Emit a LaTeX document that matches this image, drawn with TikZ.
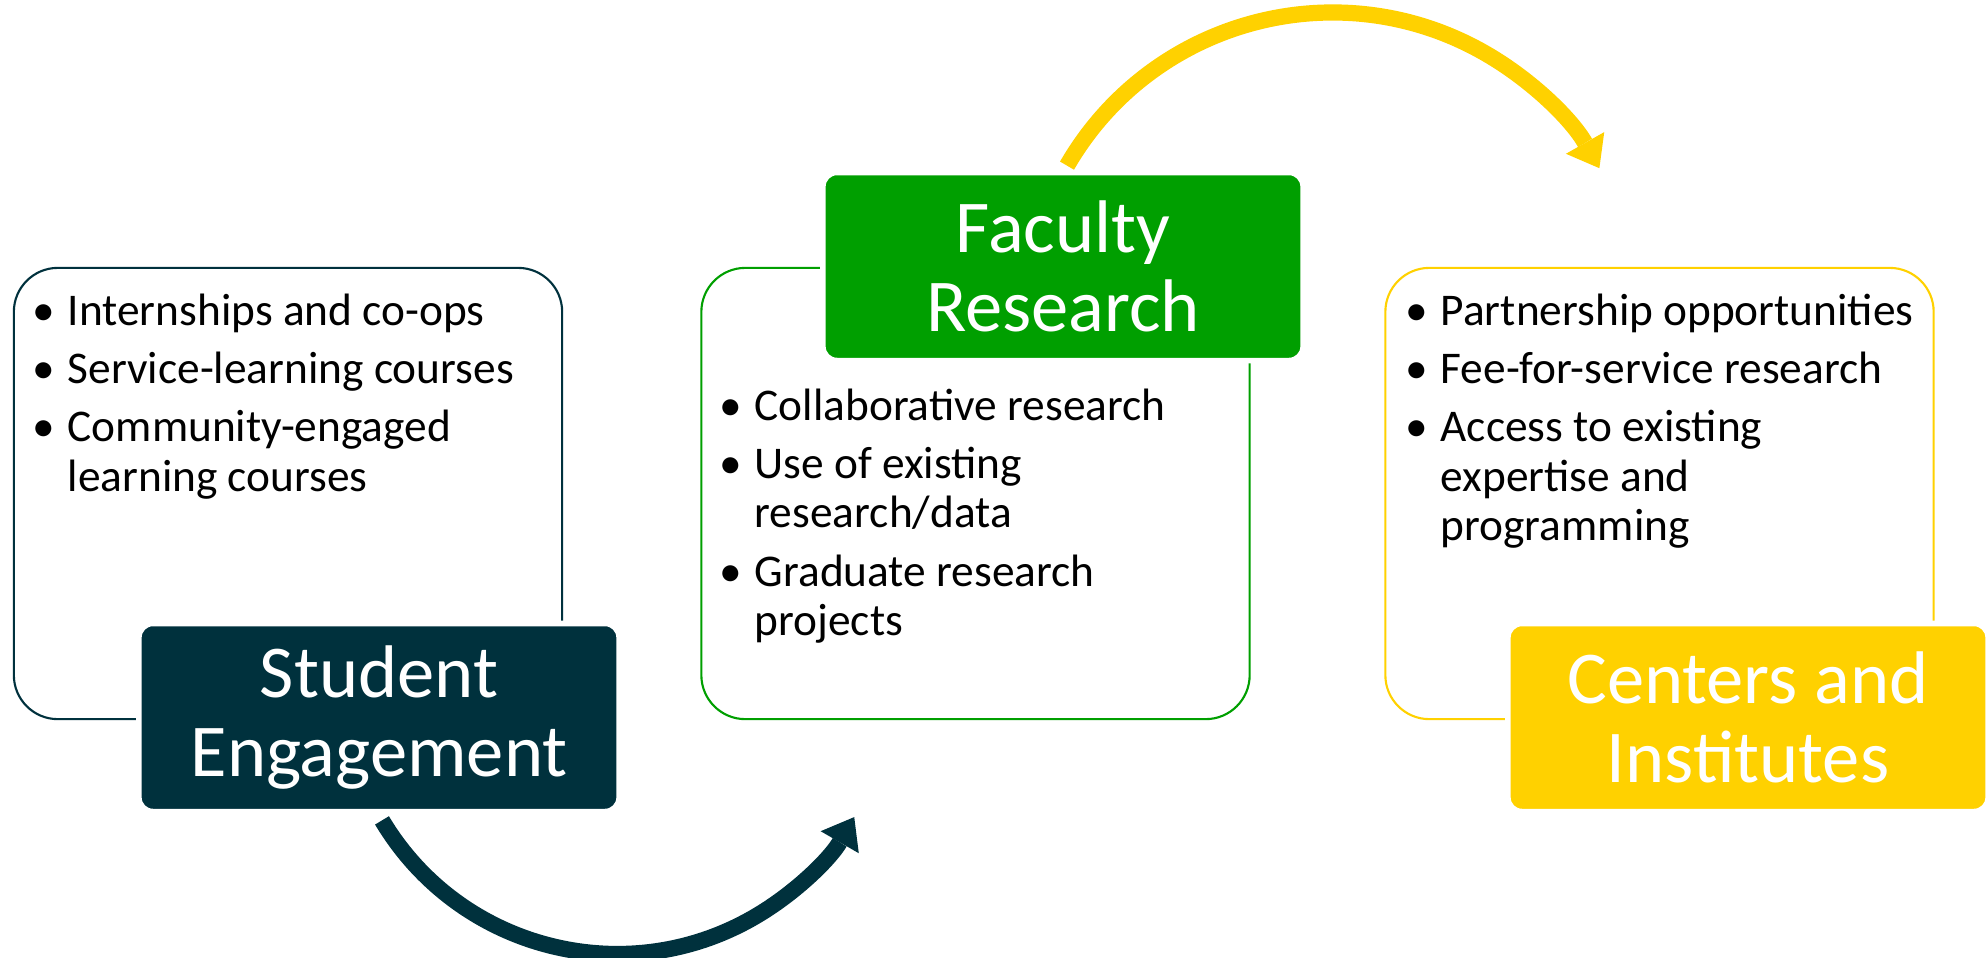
\documentclass[tikz,border=0pt]{standalone}
\usepackage{fontspec}
\setmainfont{Carlito}
\usetikzlibrary{arrows.meta}
\definecolor{cdark}{HTML}{00313D}
\definecolor{cgreen}{HTML}{009F00}
\definecolor{cyellow}{HTML}{FFD100}
\newcommand{\bu}{\makebox[0.35cm][l]{•}}
\newcommand{\ind}{\hspace*{0.35cm}}
\begin{document}
\begin{tikzpicture}[x=0.01cm,y=-0.01cm,
  panel/.style={draw, line width=0.6pt, rounded corners=0.44cm, fill=white,
    minimum width=5.48cm, minimum height=4.51cm, inner sep=0},
  head/.style={rounded corners=0.14cm, draw=white, line width=1.6pt,
    minimum width=4.8cm, minimum height=1.88cm, text=white, align=center,
    font=\fontsize{21.2}{22.3}\selectfont, inner sep=0},
  items/.style={align=left, inner sep=0, anchor=north west,
    font=\fontsize{12.9}{14}\selectfont},
  flow/.style={line width=0.162cm,
    -{Triangle[width=0.44cm,length=0.29cm,line width=0pt]}}]
\useasboundingbox (0,0) rectangle (1988,957);

% white panels
\node[panel, draw=cdark] (lp) at (288,493.5) {};
\node[panel, draw=cgreen] (mp) at (975.5,493.5) {};
\node[panel, draw=cyellow] (rp) at (1659.5,493.5) {};

% bullet lists
\node[items] (lt) at (32,293) {\bu Internships and co-ops\\[2.6pt]
  \bu Service-learning courses\\[2.6pt]
  \bu Community-engaged\\
  \ind learning courses};
\node[items] (mt) at (719,388) {\bu Collaborative research\\[2.6pt]
  \bu Use of existing\\
  \ind research/data\\[2.6pt]
  \bu Graduate research\\
  \ind projects};
\node[items] (rt) at (1405,293) {\bu Partnership opportunities\\[2.6pt]
  \bu Fee-for-service research\\[2.6pt]
  \bu Access to existing\\
  \ind expertise and\\
  \ind programming};

% headers
\node[head, fill=cdark] (se) at (379,717.5) {Student\\Engagement};
\node[head, fill=cgreen] (fr) at (1063,266.5) {Faculty\\Research};
\node[head, fill=cyellow] (ci) at (1748,717.5) {Centers and\\Institutes};

% arcs
\draw[flow, cdark] ([shift={(3,6)}]se.south)
  arc[start angle=210.8, end angle=330, radius=2.736cm];
\draw[flow, cyellow] ([shift={(4,-4)}]fr.north)
  arc[start angle=149.95, end angle=29.5, radius=3.065cm];
\end{tikzpicture}
\end{document}
